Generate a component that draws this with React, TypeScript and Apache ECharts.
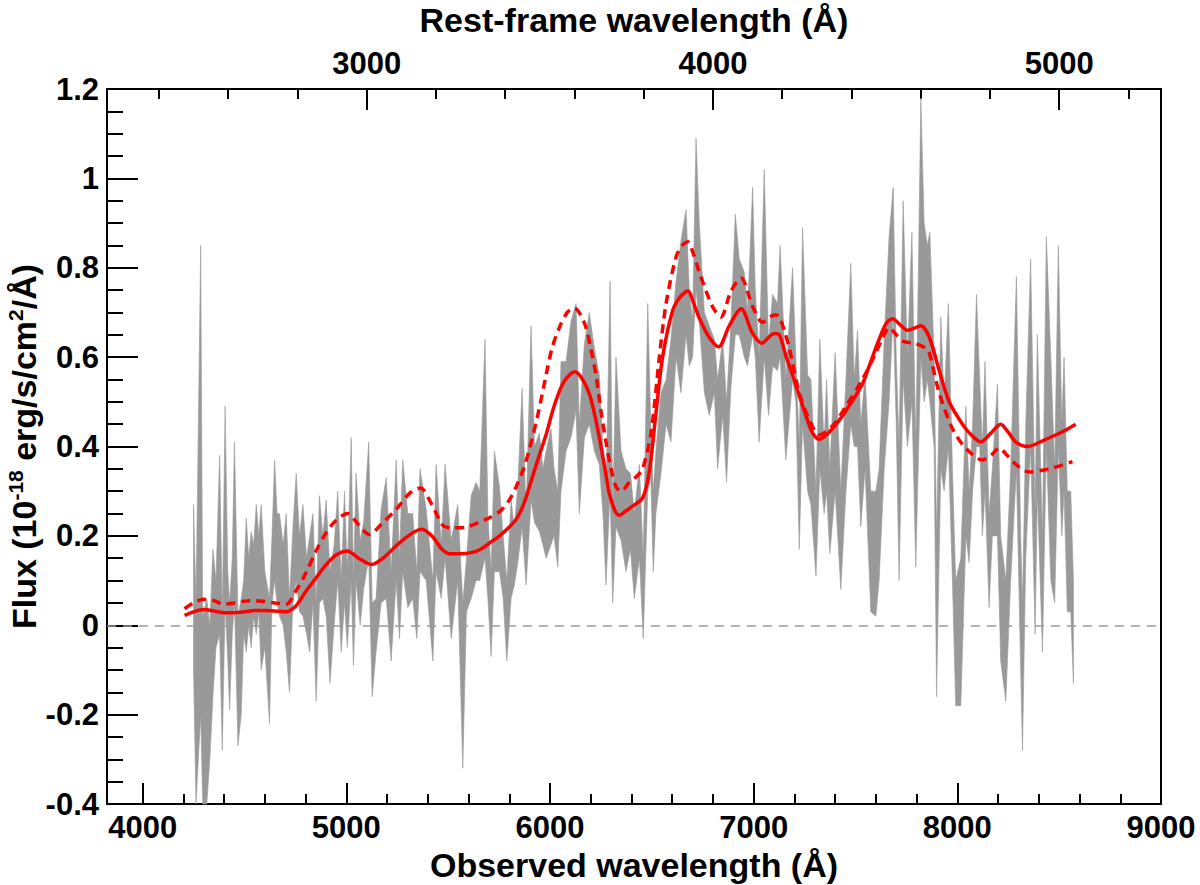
import React, { useEffect, useRef } from "react";
import * as echarts from "echarts";

const REDSHIFT = 0.7;

// gray band: observed wavelength (Å) with lower / upper flux edges
const bandWave = [
  4250, 4262, 4285, 4295, 4315, 4330, 4345, 4360, 4378, 4391, 4405, 4418, 4427, 4440, 4451, 4468, 4484, 4496,
  4509, 4521, 4533, 4545, 4558, 4570, 4582, 4600, 4623, 4635, 4648, 4660, 4672, 4690, 4705, 4721, 4738, 4754,
  4770, 4787, 4805, 4820, 4836, 4852, 4868, 4885, 4901,
  4920, 4940, 4958, 4975, 4991, 5005, 5024, 5035, 5048, 5068, 5085, 5110, 5127, 5146, 5171, 5196, 5220, 5245,
  5261, 5277, 5302, 5326, 5346, 5362, 5392, 5425, 5441, 5466, 5485, 5515, 5547, 5572, 5590, 5613, 5637,
  5655, 5681, 5695, 5711, 5727, 5752, 5770, 5788, 5809, 5825, 5842, 5863, 5883, 5907, 5924, 5948, 5965, 5981,
  6005, 6020, 6038, 6054, 6079, 6103, 6128, 6144, 6169, 6193, 6218, 6242, 6260, 6275, 6295, 6308, 6324, 6349, 6373,
  6395, 6414, 6439, 6458, 6480, 6495, 6507, 6520, 6545, 6570, 6594, 6619, 6643, 6668, 6684, 6700, 6717, 6733,
  6758, 6782, 6807, 6823, 6848, 6867, 6888, 6910, 6929, 6954, 6970, 6995, 7008, 7027, 7052, 7073, 7093, 7117,
  7130, 7158, 7191, 7207, 7224, 7240, 7265, 7281, 7306, 7325, 7346, 7358, 7374, 7400, 7428, 7453, 7477, 7494,
  7510, 7526, 7547, 7575, 7600, 7616, 7641, 7665, 7685, 7700, 7714, 7734, 7755, 7777, 7796, 7821, 7837, 7853,
  7865, 7886, 7898, 7919, 7935, 7956, 7976, 7992, 8017, 8042, 8058, 8075, 8094, 8110, 8123, 8136, 8156, 8172,
  8197, 8213, 8238, 8262, 8290, 8311, 8320, 8336, 8360, 8382, 8393, 8418, 8437, 8459, 8478, 8496, 8513, 8524,
  8540, 8557, 8570,
];
const bandLow = [
  -0.10, -0.40, -0.20, -0.40, -0.40, -0.30, -0.16, -0.05, -0.02, -0.28, 0.05, -0.08, -0.19, -0.02, 0.05, -0.27, -0.20, -0.02,
  -0.06, 0.00, -0.05, 0.02, -0.02, 0.03, -0.10, -0.05, -0.22, 0.05, 0.10, 0.05, 0.02, 0.00, -0.06, -0.15, 0.05, 0.10,
  0.03, 0.02, -0.02, -0.06, 0.05, -0.17, 0.05, 0.06, 0.02,
  -0.13, 0.00, 0.10, -0.06, 0.05, -0.05, 0.10, -0.09, 0.10, 0.00, 0.08, 0.15, -0.16, -0.06, 0.05, 0.06, -0.08, 0.10,
  -0.03, 0.12, 0.04, 0.06, -0.03, 0.12, 0.10, -0.08, 0.12, 0.06, 0.15, -0.03, 0.10, -0.32, 0.03, 0.06, 0.10,
  0.10, 0.15, 0.06, -0.07, 0.12, 0.12, 0.06, -0.08, 0.06, 0.09, 0.14, 0.22, 0.09, 0.28, 0.23, 0.21, 0.18, 0.15,
  0.18, 0.20, 0.13, 0.30, 0.39, 0.42, 0.48, 0.25, 0.42, 0.45, 0.39, 0.36, 0.25, 0.09, 0.30, 0.05, 0.22, 0.19, 0.12,
  0.17, 0.06, 0.15, -0.03, 0.30, 0.33, 0.12, 0.25, 0.34, 0.45, 0.41, 0.60, 0.52, 0.65, 0.58, 0.60, 0.75, 0.68,
  0.52, 0.47, 0.52, 0.35, 0.47, 0.32, 0.53, 0.65, 0.65, 0.60, 0.58, 0.65, 0.60, 0.41, 0.60, 0.47, 0.58, 0.57,
  0.60, 0.37, 0.55, 0.50, 0.17, 0.45, 0.30, 0.27, 0.11, 0.35, 0.25, 0.30, 0.16, 0.30, 0.08, 0.30, 0.45, 0.40,
  0.40, 0.22, 0.35, 0.03, 0.02, 0.10, 0.35, 0.50, 0.70, 0.45, 0.10, 0.55, 0.40, 0.50, 0.13, 0.60, 0.50, 0.55,
  0.50, 0.40, -0.16, 0.35, 0.30, 0.40, 0.10, -0.18, -0.18, 0.20, 0.14, 0.30, 0.40, 0.40, 0.20, 0.30, 0.04, 0.20,
  0.20, -0.08, -0.17, 0.10, 0.35, -0.10, -0.28, 0.15, 0.40, -0.02, 0.30, -0.06, 0.40, 0.10, 0.05, 0.40, 0.20, 0.30,
  0.03, 0.03, -0.13,
];
const bandHigh = [
  0.27, 0.05, 0.85, 0.02, 0.06, 0.00, 0.17, 0.10, 0.38, 0.02, 0.49, 0.12, 0.05, 0.15, 0.41, 0.02, 0.06, 0.10,
  0.24, 0.15, 0.21, 0.18, 0.27, 0.20, 0.27, 0.12, 0.06, 0.20, 0.37, 0.25, 0.25, 0.18, 0.25, 0.06, 0.22, 0.34,
  0.20, 0.27, 0.15, 0.20, 0.25, 0.05, 0.29, 0.20, 0.28,
  0.12, 0.18, 0.30, 0.10, 0.30, 0.12, 0.42, 0.10, 0.34, 0.19, 0.23, 0.41, 0.05, 0.06, 0.26, 0.33, 0.12, 0.37,
  0.15, 0.37, 0.25, 0.25, 0.12, 0.35, 0.26, 0.10, 0.36, 0.18, 0.36, 0.19, 0.27, 0.05, 0.15, 0.29, 0.32,
  0.30, 0.64, 0.25, 0.12, 0.39, 0.31, 0.20, 0.10, 0.28, 0.22, 0.31, 0.53, 0.25, 0.67, 0.40, 0.43, 0.35, 0.39,
  0.44, 0.35, 0.30, 0.59, 0.59, 0.68, 0.72, 0.45, 0.63, 0.70, 0.62, 0.56, 0.40, 0.30, 0.77, 0.25, 0.60, 0.39, 0.35,
  0.34, 0.25, 0.36, 0.15, 0.72, 0.45, 0.30, 0.39, 0.52, 0.55, 0.64, 0.77, 0.86, 0.93, 0.75, 0.68, 1.09, 0.90,
  0.70, 0.67, 0.64, 0.55, 0.64, 0.50, 0.67, 0.92, 0.82, 0.79, 0.70, 0.98, 0.75, 0.60, 1.02, 0.63, 0.74, 0.72,
  0.85, 0.55, 0.80, 0.60, 0.40, 0.89, 0.56, 0.55, 0.30, 0.64, 0.40, 0.55, 0.35, 0.61, 0.30, 0.55, 0.81, 0.55,
  0.66, 0.45, 0.56, 0.30, 0.30, 0.35, 0.64, 0.87, 0.98, 0.60, 0.40, 0.95, 0.60, 0.88, 0.40, 1.18, 0.90, 0.85,
  0.88, 0.60, 0.20, 0.69, 0.50, 0.72, 0.35, 0.10, 0.15, 0.49, 0.30, 0.45, 0.74, 0.55, 0.40, 0.59, 0.25, 0.35,
  0.54, 0.20, 0.10, 0.35, 0.78, 0.20, 0.05, 0.45, 0.82, 0.25, 0.65, 0.20, 0.87, 0.60, 0.35, 0.85, 0.45, 0.60,
  0.30, 0.30, 0.10,
];

// solid red model
const fitWave = [
  4206, 4250, 4300, 4350, 4400, 4450, 4500, 4550, 4600, 4650, 4700, 4750, 4800, 4850, 4900, 4950, 5006, 5060,
  5124, 5180, 5250, 5320, 5369, 5420, 5470, 5506, 5560, 5619, 5660, 5700, 5752, 5800, 5834, 5870, 5899, 5940,
  5981, 6020, 6062, 6100, 6123, 6160, 6193, 6220, 6242, 6270, 6291, 6320, 6341, 6370, 6400, 6455, 6488, 6520,
  6553, 6602, 6640, 6676, 6710, 6733, 6782, 6828, 6880, 6938, 6995, 7041, 7075, 7101, 7126, 7160, 7191, 7256,
  7290, 7322, 7387, 7453, 7534, 7575, 7616, 7650, 7682, 7720, 7755, 7790, 7821, 7862, 7911, 7960, 8025, 8070,
  8115, 8165, 8213, 8250, 8287, 8344, 8434, 8516, 8581,
];
const fitFlux = [
  0.022, 0.030, 0.035, 0.032, 0.028, 0.028, 0.030, 0.033, 0.033, 0.032, 0.030, 0.042, 0.075, 0.105, 0.135, 0.157, 0.166, 0.150,
  0.136, 0.150, 0.180, 0.205, 0.215, 0.200, 0.170, 0.160, 0.160, 0.163, 0.170, 0.183, 0.200, 0.220, 0.237, 0.270, 0.310, 0.370,
  0.427, 0.490, 0.540, 0.562, 0.567, 0.550, 0.518, 0.470, 0.420, 0.350, 0.295, 0.255, 0.246, 0.255, 0.265, 0.285, 0.345, 0.473,
  0.600, 0.704, 0.735, 0.748, 0.715, 0.687, 0.644, 0.623, 0.670, 0.708, 0.653, 0.631, 0.645, 0.653, 0.650, 0.600, 0.560, 0.470,
  0.430, 0.416, 0.440, 0.480, 0.540, 0.590, 0.640, 0.675, 0.686, 0.672, 0.660, 0.665, 0.670, 0.645, 0.570, 0.500, 0.450, 0.425,
  0.410, 0.430, 0.450, 0.432, 0.410, 0.400, 0.416, 0.433, 0.450,
];

// dashed red model
const altWave = [
  4206, 4250, 4300, 4350, 4400, 4450, 4500, 4550, 4600, 4650, 4705, 4750, 4803, 4850, 4901, 4950, 5006, 5060,
  5112, 5180, 5250, 5310, 5364, 5420, 5478, 5530, 5593, 5650, 5700, 5757, 5800, 5834, 5870, 5899, 5940, 5981,
  6010, 6046, 6085, 6120, 6150, 6177, 6200, 6226, 6250, 6275, 6300, 6324, 6350, 6390, 6430, 6455, 6496, 6537,
  6570, 6619, 6650, 6676, 6705, 6733, 6798, 6839, 6888, 6938, 6995, 7044, 7080, 7109, 7126, 7150, 7175, 7224,
  7273, 7322, 7387, 7453, 7534, 7600, 7640, 7665, 7700, 7731, 7796, 7845, 7862, 7911, 7976, 8042, 8123, 8165,
  8205, 8245, 8287, 8352, 8450, 8565,
];
const altFlux = [
  0.037, 0.050, 0.058, 0.055, 0.047, 0.050, 0.054, 0.055, 0.053, 0.050, 0.047, 0.075, 0.118, 0.165, 0.207, 0.235, 0.250, 0.225,
  0.203, 0.230, 0.262, 0.295, 0.307, 0.270, 0.222, 0.218, 0.220, 0.230, 0.240, 0.256, 0.280, 0.310, 0.350, 0.394, 0.470, 0.560,
  0.620, 0.666, 0.700, 0.710, 0.695, 0.666, 0.620, 0.560, 0.480, 0.410, 0.350, 0.310, 0.300, 0.320, 0.335, 0.350, 0.430, 0.600,
  0.720, 0.824, 0.850, 0.858, 0.830, 0.790, 0.713, 0.690, 0.747, 0.777, 0.713, 0.678, 0.690, 0.695, 0.690, 0.660, 0.620, 0.520,
  0.460, 0.426, 0.446, 0.490, 0.550, 0.610, 0.650, 0.666, 0.650, 0.636, 0.630, 0.620, 0.610, 0.520, 0.440, 0.396, 0.370, 0.380,
  0.396, 0.380, 0.360, 0.343, 0.350, 0.366,
];

const obsMajor = [4000, 5000, 6000, 7000, 8000, 9000];
const obsMinor = [
  4200, 4400, 4600, 4800, 5200, 5400, 5600, 5800, 6200, 6400, 6600, 6800, 7200, 7400, 7600, 7800, 8200, 8400,
  8600, 8800,
];
const restMajor = [3000, 4000, 5000];
const restMinor = [2400, 2600, 2800, 3200, 3400, 3600, 3800, 4200, 4400, 4600, 4800, 5200];

const OBS_MIN = 3825;
const OBS_MAX = 9000;

const FONT = "'Liberation Sans', Arial, Helvetica, sans-serif";

const SpectrumChart = () => {
  const chartRef = useRef<HTMLDivElement>(null);

  useEffect(() => {
    document.body.style.margin = "0";
    const chart = echarts.init(chartRef.current, null, { renderer: "svg" });

    const gridRect = { left: 107, right: 39, top: 89, bottom: 81, outerBoundsMode: "none" };
    const black = { color: "#000", width: 2 };
    const label = { fontFamily: FONT, fontWeight: "bold", fontSize: 31, color: "#000" };
    const title = { fontFamily: FONT, fontWeight: "bold", fontSize: 34, color: "#000" };
    const plain = (v: number) => String(v);

    chart.setOption({
      animation: false,
      backgroundColor: "#fff",
      grid: [gridRect, gridRect],
      xAxis: [
        {
          type: "value",
          gridIndex: 0,
          position: "bottom",
          min: OBS_MIN,
          max: OBS_MAX,
          axisLine: { show: true, onZero: false, lineStyle: black },
          axisTick: { show: true, inside: true, length: 21, lineStyle: black, customValues: obsMajor },
          axisLabel: { ...label, margin: 8, customValues: obsMajor, formatter: plain },
          splitLine: { show: false },
          name: "Observed wavelength (Å)",
          nameLocation: "middle",
          nameGap: 44,
          nameTextStyle: title,
        },
        {
          type: "value",
          gridIndex: 0,
          position: "top",
          min: OBS_MIN / (1 + REDSHIFT),
          max: OBS_MAX / (1 + REDSHIFT),
          axisLine: { show: true, onZero: false, lineStyle: black },
          axisTick: { show: true, inside: true, length: 21, lineStyle: black, customValues: restMajor },
          axisLabel: { ...label, margin: 10, customValues: restMajor, formatter: plain },
          splitLine: { show: false },
          name: "Rest-frame wavelength (Å)",
          nameLocation: "middle",
          nameGap: 52,
          nameTextStyle: title,
        },
        {
          type: "value",
          gridIndex: 1,
          position: "bottom",
          min: OBS_MIN,
          max: OBS_MAX,
          axisLine: { show: false, onZero: false },
          axisTick: { show: true, inside: true, length: 10, lineStyle: black, customValues: obsMinor },
          axisLabel: { show: false },
          splitLine: { show: false },
        },
        {
          type: "value",
          gridIndex: 1,
          position: "top",
          min: OBS_MIN / (1 + REDSHIFT),
          max: OBS_MAX / (1 + REDSHIFT),
          axisLine: { show: false, onZero: false },
          axisTick: { show: true, inside: true, length: 10, lineStyle: black, customValues: restMinor },
          axisLabel: { show: false },
          splitLine: { show: false },
        },
      ],
      yAxis: [
        {
          type: "value",
          gridIndex: 0,
          position: "left",
          min: -0.4,
          max: 1.2,
          interval: 0.2,
          axisLine: { show: true, onZero: false, lineStyle: black },
          axisTick: { show: true, inside: true, length: 31, lineStyle: black },
          minorTick: { show: true, splitNumber: 4, length: 16, lineStyle: black },
          axisLabel: {
            ...label,
            margin: 8,
            formatter: (v: number) => String(Math.round(v * 10) / 10),
          },
          splitLine: { show: false },
          minorSplitLine: { show: false },
          name: "{t|Flux (10}{s|-18}{t| erg/s/cm}{s|2}{t|/Å)}",
          nameLocation: "middle",
          nameRotate: 90,
          nameGap: 66,
          nameMoveOverlap: false,
          nameTextStyle: {
            ...title,
            rich: {
              t: { ...title, lineHeight: 36, verticalAlign: "bottom" },
              s: { ...title, fontSize: 21, lineHeight: 20, verticalAlign: "top" },
            },
          },
        },
        {
          type: "value",
          gridIndex: 0,
          position: "right",
          min: -0.4,
          max: 1.2,
          axisLine: { show: true, onZero: false, lineStyle: black },
          axisTick: { show: false },
          axisLabel: { show: false },
          splitLine: { show: false },
        },
        { type: "value", gridIndex: 1, show: false, min: -0.4, max: 1.2, axisLine: { onZero: false } },
      ],
      series: [
        {
          type: "custom",
          xAxisIndex: 0,
          yAxisIndex: 0,
          silent: true,
          z: 1,
          data: [[bandWave[0], bandLow[0]]],
          renderItem: (_params: any, api: any) => {
            const upper = bandWave.map((w, i) => api.coord([w, bandHigh[i]]));
            const lower = bandWave.map((w, i) => api.coord([w, bandLow[i]])).reverse();
            return {
              type: "polygon",
              shape: { points: upper.concat(lower) },
              style: { fill: "#999", stroke: "#999", lineWidth: 0.6 },
            };
          },
        },
        {
          type: "line",
          xAxisIndex: 0,
          yAxisIndex: 0,
          symbol: "none",
          smooth: 0.3,
          z: 3,
          lineStyle: { color: "#ff0000", width: 3.5 },
          data: fitWave.map((w, i) => [w, fitFlux[i]]),
          markLine: {
            silent: true,
            symbol: ["none", "none"],
            label: { show: false },
            lineStyle: { color: "#999", width: 1.5, type: [9, 7] },
            data: [{ yAxis: 0 }],
          },
        },
        {
          type: "line",
          xAxisIndex: 0,
          yAxisIndex: 0,
          symbol: "none",
          smooth: 0.3,
          z: 3,
          lineStyle: { color: "#ff0000", width: 3.5, type: [9, 6] },
          data: altWave.map((w, i) => [w, altFlux[i]]),
        },
      ],
    });

    return () => {
      chart.dispose();
    };
  }, []);

  return <div ref={chartRef} style={{ width: "1200px", height: "885px" }}></div>;
};

export default function App() {
  return <SpectrumChart />;
}
